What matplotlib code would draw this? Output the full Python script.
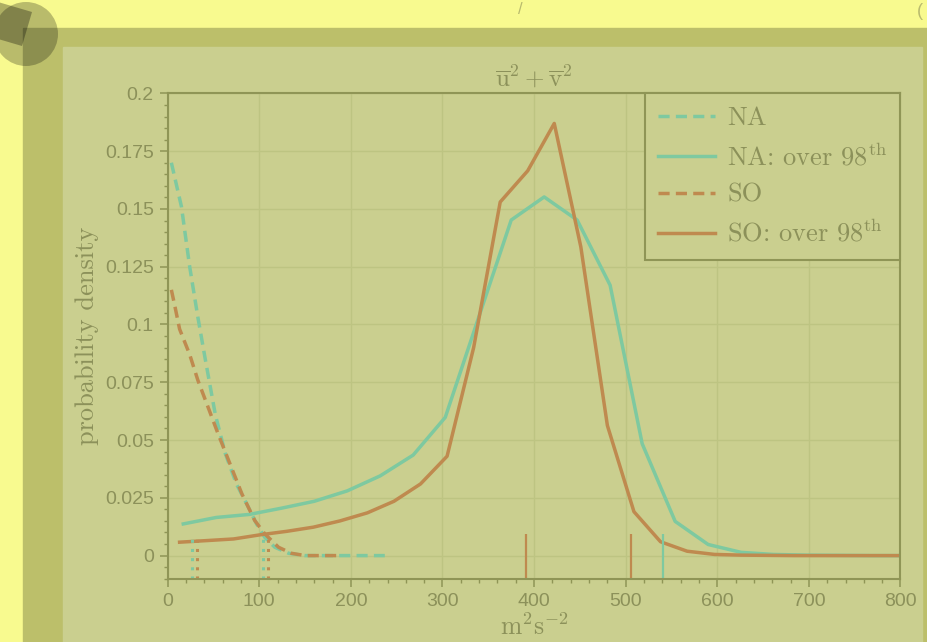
import matplotlib

matplotlib.use("Agg")
import matplotlib.pyplot as plt
from matplotlib.patches import Rectangle, Circle, Polygon
from matplotlib.ticker import MultipleLocator, FuncFormatter

# all points (dashed)
na_all_x = [4, 15, 24, 33, 41, 52, 63, 75, 88, 97, 106, 117, 132, 150, 200, 237]
na_all_y = [0.170, 0.151, 0.125, 0.103, 0.085, 0.061, 0.044, 0.031, 0.021, 0.0137,
            0.0079, 0.0036, 0.001, 0.0, 0.0, 0.0]
so_all_x = [4, 8, 13, 24, 33, 44, 55, 68, 81, 95, 106, 121, 135, 150, 185]
so_all_y = [0.115, 0.1076, 0.098, 0.087, 0.0758, 0.0643, 0.0527, 0.0397, 0.0267,
            0.0152, 0.0094, 0.0036, 0.001, 0.0, 0.0]

# over 98th percentile (solid)
na_ext_x = [17, 53, 89, 124, 160, 196, 232, 268, 303, 339, 375, 411, 447, 483, 518,
            554, 590, 626, 661, 697, 733, 769, 805]
na_ext_y = [0.0137, 0.0165, 0.0178, 0.0205, 0.0235, 0.0280, 0.0345, 0.0435, 0.0598,
            0.1025, 0.1452, 0.1552, 0.1452, 0.1170, 0.0484, 0.0148, 0.0048, 0.0014,
            0.0005, 0.0002, 0.0001, 0.0, 0.0]
so_ext_x = [13, 43, 72, 101, 130, 159, 188, 218, 247, 276, 305, 334, 363, 393, 422,
            451, 480, 509, 538, 567, 597, 626, 655, 684, 713, 743, 772, 801]
so_ext_y = [0.0058, 0.0065, 0.0072, 0.0090, 0.0105, 0.0123, 0.0150, 0.0185, 0.0235,
            0.0310, 0.0430, 0.0900, 0.1530, 0.1665, 0.1870, 0.1336, 0.0563, 0.0190,
            0.0060, 0.0019, 0.0005, 0.0002, 0.0001, 0.0, 0.0, 0.0, 0.0, 0.0]

# percentile markers
na_all_pct = [26.5, 104]
so_all_pct = [32.3, 110]
na_ext_pct = [540.3]
so_ext_pct = [391, 505.6]
MARK_TOP = 0.0095

TEAL = "#7ec9a0"
BROWN = "#bf8a4f"
INK = "#8c915a"
SPINE = "#8f9556"
PANEL = "#cacf8f"
BAND = "#bcbf6a"
YELLOW = "#f8fa8f"

plt.rcParams.update({
    "mathtext.fontset": "cm",
    "font.family": ["Liberation Sans", "DejaVu Sans"],
    "text.color": INK, "axes.labelcolor": INK,
    "xtick.color": SPINE, "ytick.color": SPINE,
    "xtick.labelcolor": INK, "ytick.labelcolor": INK,
})

W, H = 928, 642
fig = plt.figure(figsize=(W / 100, H / 100), dpi=100, facecolor=YELLOW)


def px_rect(x0, y0, x1, y1, **kw):
    return Rectangle((x0 / W, 1 - y1 / H), (x1 - x0) / W, (y1 - y0) / H,
                     transform=fig.transFigure, **kw)


fig.patches.append(px_rect(23, 28, 928, 642, color=BAND, zorder=-3))
fig.patches.append(px_rect(63, 47, 922, 642, color=PANEL, zorder=-2))
dpi_t = fig.dpi_scale_trans
fig.patches.append(Circle((0.26, (H - 34) / 100), 0.32, transform=dpi_t,
                          color="black", alpha=0.25, lw=0, zorder=-1))
fig.patches.append(Polygon([(0.32, (H - 12) / 100), (0.22, (H - 46) / 100),
                            (-0.12, (H - 36) / 100), (-0.02, (H - 2) / 100)],
                           transform=dpi_t, color="black", alpha=0.3, lw=0, zorder=-0.5))
# fragments of text above the frame
fig.text(520 / W, 1 - 9 / H, "/", fontsize=12, color="#b9bb6e", ha="center", va="center")
fig.text(920 / W, 1 - 12 / H, "(", fontsize=13, color="#b9bb6e", ha="center", va="center")

ax = fig.add_axes([167.7 / W, 1 - 578.7 / H, 732.8 / W, 485.3 / H])
ax.set_facecolor(PANEL)

ax.plot(na_all_x, na_all_y, color=TEAL, lw=2.5, ls=(0, (3.2, 1.8)), label="NA")
ax.plot(na_ext_x, na_ext_y, color=TEAL, lw=2.5, label="NA: over 98$^{\\mathrm{th}}$")
ax.plot(so_all_x, so_all_y, color=BROWN, lw=2.5, ls=(0, (3.2, 1.8)), label="SO")
ax.plot(so_ext_x, so_ext_y, color=BROWN, lw=2.5, label="SO: over 98$^{\\mathrm{th}}$")

for xs, c, ls in [(na_all_pct, TEAL, (0, (1, 2))), (so_all_pct, BROWN, (0, (1, 2))),
                  (na_ext_pct, TEAL, "-"), (so_ext_pct, BROWN, "-")]:
    lw = 2.2 if ls != "-" else 1.6
    ax.vlines(xs, -0.01, MARK_TOP, colors=c, lw=lw, linestyles=[ls])

ax.set_xlim(0, 800)
ax.set_ylim(-0.01, 0.2)
ax.xaxis.set_major_locator(MultipleLocator(100))
ax.xaxis.set_minor_locator(MultipleLocator(20))
ax.yaxis.set_major_locator(MultipleLocator(0.025))
ax.yaxis.set_minor_locator(MultipleLocator(0.005))


def fmt(v, pos):
    s = f"{v:.3f}".rstrip("0").rstrip(".")
    return "0" if s in ("-0", "") else s


ax.yaxis.set_major_formatter(FuncFormatter(fmt))
ax.tick_params(which="major", direction="out", length=6, width=1.1, labelsize=14, pad=4)
ax.tick_params(which="minor", direction="out", length=3, width=1.0)
ax.grid(which="major", color="#bdc482", lw=1.0)
ax.set_axisbelow(True)
for sp in ax.spines.values():
    sp.set_color(SPINE)
    sp.set_linewidth(1.5)

ax.set_ylabel("probability density", fontfamily="cmr10", fontsize=19, labelpad=4)
ax.set_xlabel(r"$\mathrm{m^2s^{-2}}$", fontsize=18.5, labelpad=3)
ax.set_title(r"$\overline{\mathrm{u}}^2 + \overline{\mathrm{v}}^2$", fontsize=18, pad=5, color=INK)

leg = ax.legend(loc="upper right", borderaxespad=0, fancybox=False, frameon=True,
                prop={"family": "cmr10", "size": 19}, handlelength=2.15,
                handletextpad=0.45, labelspacing=0.48, borderpad=0.5)
leg.get_frame().set_facecolor(PANEL)
leg.get_frame().set_edgecolor(SPINE)
leg.get_frame().set_linewidth(1.5)
leg.get_frame().set_alpha(1.0)

fig.savefig("out.png", dpi=100, facecolor=YELLOW)
